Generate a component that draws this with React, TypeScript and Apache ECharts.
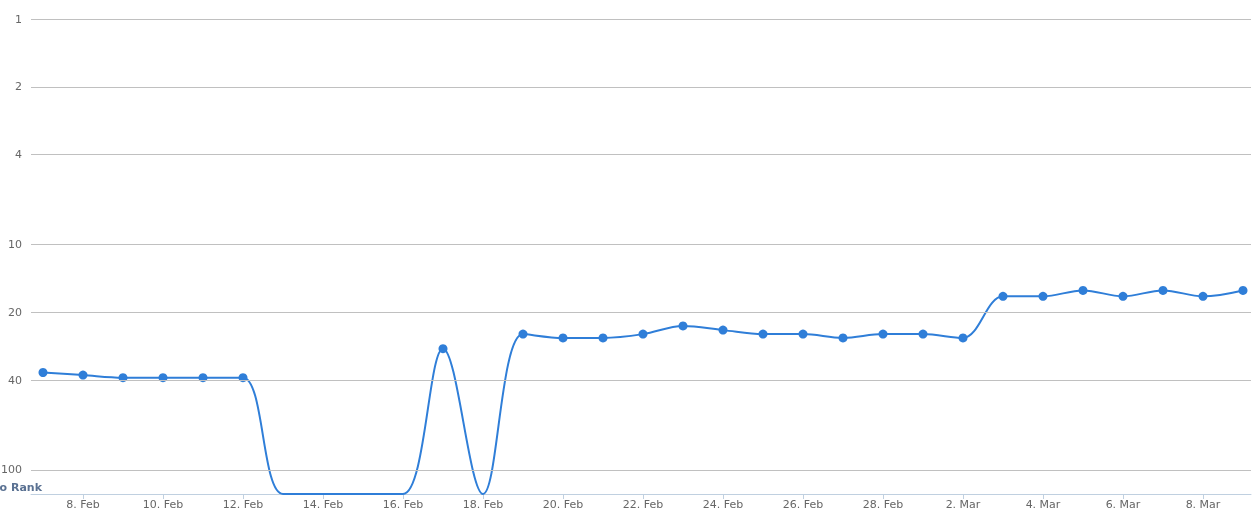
import React, { useEffect, useRef } from "react";
import * as echarts from "echarts";

// Dates (one per day)
const dates: string[] = [
  "7. Feb", "8. Feb", "9. Feb", "10. Feb", "11. Feb", "12. Feb", "13. Feb", "14. Feb",
  "15. Feb", "16. Feb", "17. Feb", "18. Feb", "19. Feb", "20. Feb", "21. Feb", "22. Feb",
  "23. Feb", "24. Feb", "25. Feb", "26. Feb", "27. Feb", "28. Feb", "1. Mar", "2. Mar",
  "3. Mar", "4. Mar", "5. Mar", "6. Mar", "7. Mar", "8. Mar", "9. Mar",
];

// Rank per day; null = no rank
const ranks: (number | null)[] = [
  37, 38, 39, 39, 39, 39, null, null,
  null, null, 29, null, 25, 26, 26, 25,
  23, 24, 25, 25, 26, 25, 25, 26,
  17, 17, 16, 17, 16, 17, 16,
];

// Y tick labels (log scale, inverted)
const yTicks: number[] = [1, 2, 4, 10, 20, 40, 100];
// Value used to draw "No Rank" at the bottom of the axis
const NO_RANK = 128;
// x tick positions (every second day, starting on 8. Feb)
const xTickIdx: number[] = dates.map((_, i) => i).filter((i) => i % 2 === 1);

export default function App() {
  const ref = useRef<HTMLDivElement>(null);
  useEffect(() => {
    if (!ref.current) return;
    const chart = echarts.init(ref.current, undefined, { renderer: "svg" });
    const font = "DejaVu Sans";
    chart.setOption({
      animation: false,
      grid: { left: 31, right: 6, top: 19, bottom: 25 },
      xAxis: {
        type: "value",
        min: -0.3,
        max: dates.length - 1 + 0.2,
        splitLine: { show: false },
        axisLine: { show: true, lineStyle: { color: "#C0D0E0", width: 1 } },
        axisTick: {
          show: true,
          customValues: xTickIdx,
          length: 5,
          lineStyle: { color: "#C0D0E0" },
        },
        axisLabel: {
          customValues: xTickIdx,
          formatter: (v: number) => dates[Math.round(v)] ?? "",
          color: "#666666",
          fontSize: 11,
          fontFamily: font,
          margin: 5,
        },
      },
      yAxis: {
        type: "log",
        logBase: 10,
        inverse: true,
        min: 1,
        max: NO_RANK,
        axisLabel: { show: false },
        splitLine: { show: false },
        axisLine: { show: false },
        axisTick: { show: false },
      },
      graphic: [
        {
          type: "text",
          x: 42,
          y: 487,
          style: {
            text: "No Rank",
            align: "right",
            verticalAlign: "middle",
            fill: "#5a7192",
            font: `bold 11px ${font}`,
          },
        },
      ],
      series: [
        {
          type: "line",
          smooth: 0.35,
          data: ranks.map((r, i) =>
            r === null
              ? { value: [i, NO_RANK], symbol: "none" }
              : { value: [i, r] }
          ),
          symbol: "circle",
          symbolSize: 9,
          showSymbol: true,
          lineStyle: { color: "#2f7ed8", width: 2 },
          itemStyle: { color: "#2f7ed8" },
          markLine: {
            silent: true,
            symbol: "none",
            animation: false,
            lineStyle: { color: "#C0C0C0", width: 1, type: "solid" },
            label: {
              show: true,
              position: "start",
              distance: 9,
              color: "#666666",
              fontSize: 11,
              fontFamily: font,
              formatter: (p: any) => String(p.value),
            },
            data: yTicks.map((t) => ({ yAxis: t })),
          },
          z: 3,
        },
      ],
    });
    return () => chart.dispose();
  }, []);
  return (
    <div
      ref={ref}
      style={{ position: "fixed", left: 0, top: 0, width: 1257, height: 519 }}
    />
  );
}
